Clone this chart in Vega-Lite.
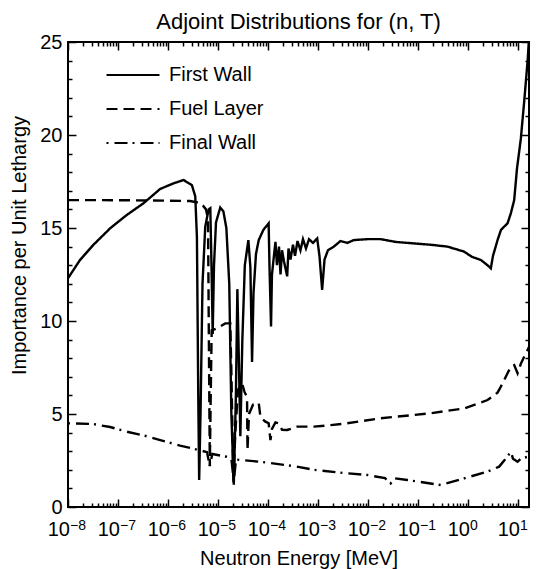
{
  "$schema": "https://vega.github.io/schema/vega-lite/v6.json",
  "width": 461,
  "height": 465,
  "autosize": {"type": "none"},
  "padding": {"left": 68, "top": 42, "right": 7, "bottom": 62},
  "background": "white",
  "title": {"text": "Adjoint Distributions for (n, T)", "fontSize": 22, "font": "Liberation Sans", "fontWeight": "normal", "color": "black", "baseline": "bottom", "offset": -24, "anchor": "middle"},
  "datasets": {
    "curves": [
      {"series":"First Wall","energy":1e-8,"importance":12.3},
      {"series":"First Wall","energy":1.74e-8,"importance":13.28},
      {"series":"First Wall","energy":3.21e-8,"importance":14.09},
      {"series":"First Wall","energy":6.95e-8,"importance":14.98},
      {"series":"First Wall","energy":1.5e-7,"importance":15.7},
      {"series":"First Wall","energy":3.23e-7,"importance":16.33},
      {"series":"First Wall","energy":6.98e-7,"importance":17.1},
      {"series":"First Wall","energy":1.29e-6,"importance":17.4},
      {"series":"First Wall","energy":2.05e-6,"importance":17.58},
      {"series":"First Wall","energy":3.01e-6,"importance":17.3},
      {"series":"First Wall","energy":3.51e-6,"importance":16.7},
      {"series":"First Wall","energy":3.79e-6,"importance":14.5},
      {"series":"First Wall","energy":4.03e-6,"importance":6},
      {"series":"First Wall","energy":4.2e-6,"importance":1.45},
      {"series":"First Wall","energy":4.47e-6,"importance":5},
      {"series":"First Wall","energy":4.9e-6,"importance":12},
      {"series":"First Wall","energy":5.56e-6,"importance":15.07},
      {"series":"First Wall","energy":6.49e-6,"importance":16.0},
      {"series":"First Wall","energy":7.02e-6,"importance":16.06},
      {"series":"First Wall","energy":7.41e-6,"importance":13},
      {"series":"First Wall","energy":7.83e-6,"importance":9.3},
      {"series":"First Wall","energy":8.32e-6,"importance":13},
      {"series":"First Wall","energy":9.12e-6,"importance":15.3},
      {"series":"First Wall","energy":1.11e-5,"importance":16.1},
      {"series":"First Wall","energy":1.28e-5,"importance":15.9},
      {"series":"First Wall","energy":1.47e-5,"importance":15.0},
      {"series":"First Wall","energy":1.68e-5,"importance":12},
      {"series":"First Wall","energy":1.85e-5,"importance":5},
      {"series":"First Wall","energy":2.07e-5,"importance":1.2},
      {"series":"First Wall","energy":2.28e-5,"importance":6},
      {"series":"First Wall","energy":2.44e-5,"importance":11.7},
      {"series":"First Wall","energy":2.61e-5,"importance":8},
      {"series":"First Wall","energy":2.8e-5,"importance":3.8},
      {"series":"First Wall","energy":3.07e-5,"importance":9},
      {"series":"First Wall","energy":3.44e-5,"importance":13},
      {"series":"First Wall","energy":4.05e-5,"importance":14.35},
      {"series":"First Wall","energy":4.44e-5,"importance":12.9},
      {"series":"First Wall","energy":4.8e-5,"importance":7.8},
      {"series":"First Wall","energy":5.13e-5,"importance":11.5},
      {"series":"First Wall","energy":5.75e-5,"importance":13.6},
      {"series":"First Wall","energy":6.52e-5,"importance":14.35},
      {"series":"First Wall","energy":8.09e-5,"importance":14.9},
      {"series":"First Wall","energy":1.03e-4,"importance":15.25},
      {"series":"First Wall","energy":1.07e-4,"importance":13},
      {"series":"First Wall","energy":1.15e-4,"importance":9.7},
      {"series":"First Wall","energy":1.2e-4,"importance":12.5},
      {"series":"First Wall","energy":1.41e-4,"importance":14.26},
      {"series":"First Wall","energy":1.51e-4,"importance":13.0},
      {"series":"First Wall","energy":1.66e-4,"importance":14.0},
      {"series":"First Wall","energy":1.78e-4,"importance":12.5},
      {"series":"First Wall","energy":1.91e-4,"importance":13.8},
      {"series":"First Wall","energy":2.09e-4,"importance":13.2},
      {"series":"First Wall","energy":2.42e-4,"importance":12.4},
      {"series":"First Wall","energy":2.57e-4,"importance":13.9},
      {"series":"First Wall","energy":2.82e-4,"importance":13.3},
      {"series":"First Wall","energy":3.16e-4,"importance":14.1},
      {"series":"First Wall","energy":3.47e-4,"importance":13.5},
      {"series":"First Wall","energy":3.89e-4,"importance":14.3},
      {"series":"First Wall","energy":4.46e-4,"importance":13.8},
      {"series":"First Wall","energy":5.01e-4,"importance":14.4},
      {"series":"First Wall","energy":5.75e-4,"importance":13.9},
      {"series":"First Wall","energy":6.61e-4,"importance":14.4},
      {"series":"First Wall","energy":7.94e-4,"importance":14.2},
      {"series":"First Wall","energy":9.64e-4,"importance":14.44},
      {"series":"First Wall","energy":1.07e-3,"importance":13.5},
      {"series":"First Wall","energy":1.21e-3,"importance":11.67},
      {"series":"First Wall","energy":1.35e-3,"importance":13.3},
      {"series":"First Wall","energy":1.58e-3,"importance":13.8},
      {"series":"First Wall","energy":2.07e-3,"importance":14.0},
      {"series":"First Wall","energy":2.82e-3,"importance":14.3},
      {"series":"First Wall","energy":3.85e-3,"importance":14.2},
      {"series":"First Wall","energy":5.21e-3,"importance":14.35},
      {"series":"First Wall","energy":9.68e-3,"importance":14.4},
      {"series":"First Wall","energy":1.79e-2,"importance":14.4},
      {"series":"First Wall","energy":3.63e-2,"importance":14.25},
      {"series":"First Wall","energy":8.32e-2,"importance":14.17},
      {"series":"First Wall","energy":0.179,"importance":14.1},
      {"series":"First Wall","energy":0.388,"importance":14.0},
      {"series":"First Wall","energy":0.836,"importance":13.73},
      {"series":"First Wall","energy":1.2,"importance":13.45},
      {"series":"First Wall","energy":1.81,"importance":13.28},
      {"series":"First Wall","energy":2.46,"importance":13.0},
      {"series":"First Wall","energy":2.86,"importance":12.83},
      {"series":"First Wall","energy":3.16,"importance":13.5},
      {"series":"First Wall","energy":3.9,"importance":14.35},
      {"series":"First Wall","energy":4.57,"importance":14.9},
      {"series":"First Wall","energy":6.18,"importance":15.25},
      {"series":"First Wall","energy":7.21,"importance":15.8},
      {"series":"First Wall","energy":8.39,"importance":16.5},
      {"series":"First Wall","energy":9.55,"importance":18.2},
      {"series":"First Wall","energy":11.4,"importance":19.8},
      {"series":"First Wall","energy":13.3,"importance":21.8},
      {"series":"First Wall","energy":15.6,"importance":24.0},
      {"series":"First Wall","energy":16.6,"importance":25.2},
      {"series":"Fuel Layer","energy":1e-8,"importance":16.5},
      {"series":"Fuel Layer","energy":4.37e-8,"importance":16.5},
      {"series":"Fuel Layer","energy":4.37e-7,"importance":16.48},
      {"series":"Fuel Layer","energy":2.75e-6,"importance":16.45},
      {"series":"Fuel Layer","energy":3.51e-6,"importance":16.4},
      {"series":"Fuel Layer","energy":4.37e-6,"importance":16.35},
      {"series":"Fuel Layer","energy":5.01e-6,"importance":16.2},
      {"series":"Fuel Layer","energy":5.75e-6,"importance":16.0},
      {"series":"Fuel Layer","energy":6.31e-6,"importance":15.5},
      {"series":"Fuel Layer","energy":6.61e-6,"importance":8},
      {"series":"Fuel Layer","energy":6.86e-6,"importance":2.2},
      {"series":"Fuel Layer","energy":7.24e-6,"importance":7},
      {"series":"Fuel Layer","energy":7.48e-6,"importance":9.5},
      {"series":"Fuel Layer","energy":9.42e-6,"importance":9.6},
      {"series":"Fuel Layer","energy":1.4e-5,"importance":9.87},
      {"series":"Fuel Layer","energy":1.76e-5,"importance":9.87},
      {"series":"Fuel Layer","energy":1.86e-5,"importance":7},
      {"series":"Fuel Layer","energy":2.03e-5,"importance":1.3},
      {"series":"Fuel Layer","energy":2.22e-5,"importance":4},
      {"series":"Fuel Layer","energy":2.51e-5,"importance":6.3},
      {"series":"Fuel Layer","energy":3.03e-5,"importance":6.65},
      {"series":"Fuel Layer","energy":3.37e-5,"importance":6.2},
      {"series":"Fuel Layer","energy":3.81e-5,"importance":5.9},
      {"series":"Fuel Layer","energy":3.89e-5,"importance":3.06},
      {"series":"Fuel Layer","energy":4.17e-5,"importance":5.0},
      {"series":"Fuel Layer","energy":5.01e-5,"importance":5.5},
      {"series":"Fuel Layer","energy":6.52e-5,"importance":5.6},
      {"series":"Fuel Layer","energy":7.05e-5,"importance":4.86},
      {"series":"Fuel Layer","energy":8.71e-5,"importance":4.6},
      {"series":"Fuel Layer","energy":1.03e-4,"importance":4.5},
      {"series":"Fuel Layer","energy":1.12e-4,"importance":3.6},
      {"series":"Fuel Layer","energy":1.2e-4,"importance":4.2},
      {"series":"Fuel Layer","energy":1.41e-4,"importance":4.55},
      {"series":"Fuel Layer","energy":1.64e-4,"importance":4.5},
      {"series":"Fuel Layer","energy":1.91e-4,"importance":4.15},
      {"series":"Fuel Layer","energy":2.42e-4,"importance":4.14},
      {"series":"Fuel Layer","energy":3.83e-4,"importance":4.32},
      {"series":"Fuel Layer","energy":8.24e-4,"importance":4.32},
      {"series":"Fuel Layer","energy":1.78e-3,"importance":4.4},
      {"series":"Fuel Layer","energy":3.85e-3,"importance":4.5},
      {"series":"Fuel Layer","energy":1.79e-2,"importance":4.77},
      {"series":"Fuel Layer","energy":0.179,"importance":5.04},
      {"series":"Fuel Layer","energy":0.836,"importance":5.3},
      {"series":"Fuel Layer","energy":2.46,"importance":5.75},
      {"series":"Fuel Layer","energy":3.9,"importance":6.15},
      {"series":"Fuel Layer","energy":4.54,"importance":6.47},
      {"series":"Fuel Layer","energy":6.18,"importance":7.19},
      {"series":"Fuel Layer","energy":7.21,"importance":7.55},
      {"series":"Fuel Layer","energy":8.39,"importance":7.63},
      {"series":"Fuel Layer","energy":9.82,"importance":7.19},
      {"series":"Fuel Layer","energy":11.4,"importance":7.7},
      {"series":"Fuel Layer","energy":13.3,"importance":8.08},
      {"series":"Fuel Layer","energy":15.6,"importance":8.45},
      {"series":"Fuel Layer","energy":16.6,"importance":8.6},
      {"series":"Final Wall","energy":1e-8,"importance":4.5},
      {"series":"Final Wall","energy":3.21e-8,"importance":4.46},
      {"series":"Final Wall","energy":6.95e-8,"importance":4.3},
      {"series":"Final Wall","energy":1.5e-7,"importance":4.05},
      {"series":"Final Wall","energy":3.23e-7,"importance":3.85},
      {"series":"Final Wall","energy":6.98e-7,"importance":3.6},
      {"series":"Final Wall","energy":1.74e-6,"importance":3.3},
      {"series":"Final Wall","energy":3.63e-6,"importance":3.1},
      {"series":"Final Wall","energy":6.03e-6,"importance":2.95},
      {"series":"Final Wall","energy":6.86e-6,"importance":2.2},
      {"series":"Final Wall","energy":7.69e-6,"importance":2.85},
      {"series":"Final Wall","energy":1.49e-5,"importance":2.7},
      {"series":"Final Wall","energy":1.85e-5,"importance":2.6},
      {"series":"Final Wall","energy":2.07e-5,"importance":1.4},
      {"series":"Final Wall","energy":2.29e-5,"importance":2.55},
      {"series":"Final Wall","energy":2.8e-5,"importance":2.53},
      {"series":"Final Wall","energy":7.05e-5,"importance":2.43},
      {"series":"Final Wall","energy":3.27e-4,"importance":2.2},
      {"series":"Final Wall","energy":8.24e-4,"importance":2.0},
      {"series":"Final Wall","energy":3.85e-3,"importance":1.81},
      {"series":"Final Wall","energy":9.68e-3,"importance":1.72},
      {"series":"Final Wall","energy":2.19e-2,"importance":1.55},
      {"series":"Final Wall","energy":2.84e-2,"importance":1.27},
      {"series":"Final Wall","energy":3.31e-2,"importance":1.55},
      {"series":"Final Wall","energy":6.14e-2,"importance":1.45},
      {"series":"Final Wall","energy":0.11,"importance":1.35},
      {"series":"Final Wall","energy":0.285,"importance":1.18},
      {"series":"Final Wall","energy":0.836,"importance":1.54},
      {"series":"Final Wall","energy":2.46,"importance":1.9},
      {"series":"Final Wall","energy":4.2,"importance":2.17},
      {"series":"Final Wall","energy":5.5,"importance":2.55},
      {"series":"Final Wall","energy":7.21,"importance":2.97},
      {"series":"Final Wall","energy":7.94,"importance":2.6},
      {"series":"Final Wall","energy":9.82,"importance":2.43},
      {"series":"Final Wall","energy":11.4,"importance":2.6},
      {"series":"Final Wall","energy":15.6,"importance":2.7},
      {"series":"Final Wall","energy":16.6,"importance":2.8}
    ]
  },
  "data": {"name": "curves"},
  "resolve": {"axis": {"x": "independent", "y": "independent"}},
  "layer": [
    {
      "mark": {"type": "line", "color": "black", "strokeWidth": 2.4, "clip": true},
      "encoding": {
        "x": {"field": "energy", "type": "quantitative",
          "scale": {"type": "log", "domain": [1e-8, 16.6], "nice": false},
          "axis": {"orient": "bottom", "values": [1e-8,1e-7,1e-6,1e-5,1e-4,1e-3,1e-2,1e-1,1,10],
            "labelExpr": "'10'", "labelAlign": "right", "labelOffset": 1.5, "labelBaseline": "top", "labelPadding": 12,
            "labelFontSize": 20, "labelOverlap": false, "labelFlush": false, "ticks": false, "domain": false, "grid": false,
            "title": "Neutron Energy [MeV]", "titleFontSize": 20, "titleFontWeight": "normal", "titleBaseline": "top", "titleY": 41.5}},
        "y": {"field": "importance", "type": "quantitative",
          "scale": {"domain": [0, 25], "nice": false, "zero": false},
          "axis": {"orient": "left", "values": [0,5,10,15,20,25], "labelFontSize": 20, "labelPadding": 6,
            "labelOverlap": false, "labelFlush": false, "ticks": false, "domain": false, "grid": false,
            "title": "Importance per Unit Lethargy", "titleFontSize": 20, "titleFontWeight": "normal",
            "titleAngle": -90, "titleBaseline": "bottom", "titleAlign": "center", "titleX": -38.5, "titleY": 203}},
        "strokeDash": {"field": "series", "type": "nominal",
          "scale": {"domain": ["First Wall", "Fuel Layer", "Final Wall"], "range": [[1, 0], [11, 6], [2, 6, 13, 5]]},
          "legend": {"title": null, "orient": "none", "legendX": 37, "legendY": 16}}
      }
    },
    {
      "mark": {"type": "point", "opacity": 0},
      "encoding": {
        "x": {"field": "energy", "type": "quantitative",
          "scale": {"type": "log", "domain": [1e-8, 16.6], "nice": false},
          "axis": {"orient": "bottom", "values": [1e-8,1e-7,1e-6,1e-5,1e-4,1e-3,1e-2,1e-1,1,10],
            "labelExpr": "format(log(datum.value)/LN10, '.0f')", "labelAlign": "left", "labelOffset": 1.5, "labelBaseline": "top", "labelPadding": 11,
            "labelFontSize": 14, "labelOverlap": false, "labelFlush": false, "ticks": false, "domain": false, "grid": false, "title": null}},
        "y": {"field": "importance", "type": "quantitative",
          "scale": {"domain": [0, 25], "nice": false, "zero": false},
          "axis": {"orient": "left", "values": [0,5,10,15,20,25], "labels": false, "tickSize": -8, "domain": false, "grid": false, "title": null}}
      }
    },
    {
      "mark": {"type": "point", "opacity": 0},
      "encoding": {
        "x": {"field": "energy", "type": "quantitative",
          "scale": {"type": "log", "domain": [1e-8, 16.6], "nice": false},
          "axis": {"orient": "bottom", "values": [1e-8,1e-7,1e-6,1e-5,1e-4,1e-3,1e-2,1e-1,1,10],
            "labels": false, "tickSize": -8, "domain": false, "grid": false, "title": null}},
        "y": {"field": "importance", "type": "quantitative",
          "scale": {"domain": [0, 25], "nice": false, "zero": false},
          "axis": {"orient": "left", "values": [1,2,3,4,6,7,8,9,11,12,13,14,16,17,18,19,21,22,23,24], "labels": false, "tickSize": -4, "domain": false, "grid": false, "title": null}}
      }
    },
    {
      "mark": {"type": "point", "opacity": 0},
      "encoding": {
        "x": {"field": "energy", "type": "quantitative",
          "scale": {"type": "log", "domain": [1e-8, 16.6], "nice": false},
          "axis": {"orient": "bottom", "values": [2e-8,3e-8,4e-8,5e-8,6e-8,7e-8,8e-8,9e-8,2e-7,3e-7,4e-7,5e-7,6e-7,7e-7,8e-7,9e-7,2e-6,3e-6,4e-6,5e-6,6e-6,7e-6,8e-6,9e-6,2e-5,3e-5,4e-5,5e-5,6e-5,7e-5,8e-5,9e-5,2e-4,3e-4,4e-4,5e-4,6e-4,7e-4,8e-4,9e-4,0.002,0.003,0.004,0.005,0.006,0.007,0.008,0.009,0.02,0.03,0.04,0.05,0.06,0.07,0.08,0.09,0.2,0.3,0.4,0.5,0.6,0.7,0.8,0.9,2,3,4,5,6,7,8,9],
            "labels": false, "tickSize": -4, "domain": false, "grid": false, "title": null}},
        "y": {"field": "importance", "type": "quantitative",
          "scale": {"domain": [0, 25], "nice": false, "zero": false},
          "axis": {"orient": "right", "values": [0,5,10,15,20,25], "labels": false, "tickSize": -8, "domain": false, "grid": false, "title": null}}
      }
    },
    {
      "mark": {"type": "point", "opacity": 0},
      "encoding": {
        "x": {"field": "energy", "type": "quantitative",
          "scale": {"type": "log", "domain": [1e-8, 16.6], "nice": false},
          "axis": {"orient": "top", "values": [1e-8,1e-7,1e-6,1e-5,1e-4,1e-3,1e-2,1e-1,1,10],
            "labels": false, "tickSize": -8, "domain": false, "grid": false, "title": null}},
        "y": {"field": "importance", "type": "quantitative",
          "scale": {"domain": [0, 25], "nice": false, "zero": false},
          "axis": {"orient": "right", "values": [1,2,3,4,6,7,8,9,11,12,13,14,16,17,18,19,21,22,23,24], "labels": false, "tickSize": -4, "domain": false, "grid": false, "title": null}}
      }
    },
    {
      "mark": {"type": "point", "opacity": 0},
      "encoding": {
        "x": {"field": "energy", "type": "quantitative",
          "scale": {"type": "log", "domain": [1e-8, 16.6], "nice": false},
          "axis": {"orient": "top", "values": [2e-8,3e-8,4e-8,5e-8,6e-8,7e-8,8e-8,9e-8,2e-7,3e-7,4e-7,5e-7,6e-7,7e-7,8e-7,9e-7,2e-6,3e-6,4e-6,5e-6,6e-6,7e-6,8e-6,9e-6,2e-5,3e-5,4e-5,5e-5,6e-5,7e-5,8e-5,9e-5,2e-4,3e-4,4e-4,5e-4,6e-4,7e-4,8e-4,9e-4,0.002,0.003,0.004,0.005,0.006,0.007,0.008,0.009,0.02,0.03,0.04,0.05,0.06,0.07,0.08,0.09,0.2,0.3,0.4,0.5,0.6,0.7,0.8,0.9,2,3,4,5,6,7,8,9],
            "labels": false, "tickSize": -4, "domain": false, "grid": false, "title": null}},
        "y": {"field": "importance", "type": "quantitative",
          "scale": {"domain": [0, 25], "nice": false, "zero": false},
          "axis": null}
      }
    }
  ],
  "config": {
    "font": "Liberation Sans",
    "view": {"stroke": "black", "strokeWidth": 2},
    "axis": {"minExtent": 0, "maxExtent": 200, "tickColor": "black", "tickWidth": 1.5, "labelColor": "black", "titleColor": "black", "labelFont": "Liberation Sans", "titleFont": "Liberation Sans"},
    "legend": {"symbolType": "stroke", "symbolSize": 2809, "symbolStrokeWidth": 2.2, "symbolStrokeColor": "black", "labelFontSize": 20, "labelFont": "Liberation Sans", "labelColor": "black", "clipHeight": 34, "rowPadding": 0, "labelOffset": 8, "padding": 0, "symbolOffset": 0}
  }
}
